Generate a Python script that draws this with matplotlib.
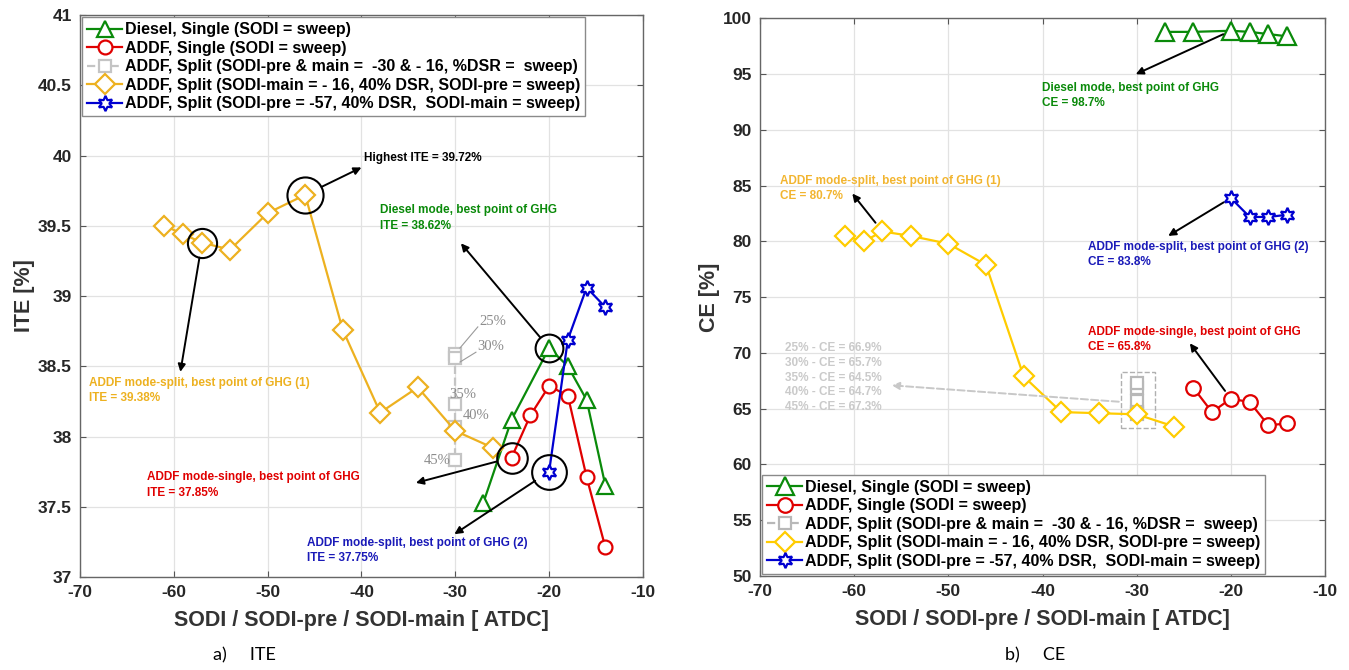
import matplotlib.pyplot as plt
import numpy as np

# ---------------- data ----------------
# Diesel, single injection
diesel_sodi = [-27, -24, -20, -18, -16, -14]
diesel_ite = [37.53, 38.12, 38.63, 38.50, 38.26, 37.65]
diesel_ce = [98.8, 98.8, 98.9, 98.8, 98.6, 98.4]

# ADDF, single injection
single_sodi = [-24, -22, -20, -18, -16, -14]
single_ite = [37.85, 38.15, 38.36, 38.29, 37.71, 37.21]
single_ce = [66.9, 64.7, 65.9, 65.6, 63.5, 63.7]

# ADDF split, DSR sweep at SODI-pre -30
dsr_sodi = [-30, -30, -30, -30, -30]
dsr_labels = ['25%', '30%', '35%', '40%', '45%']
dsr_ite = [38.59, 38.56, 38.23, 38.07, 37.83]
dsr_ce = [66.9, 65.7, 64.5, 64.7, 67.3]

# ADDF split, SODI-pre sweep
pre_sodi = [-61, -59, -57, -54, -50, -46, -42, -38, -34, -30, -26]
pre_ite = [39.50, 39.44, 39.38, 39.33, 39.59, 39.72, 38.76, 38.17, 38.35, 38.04, 37.92]
pre_ce = [80.5, 80.0, 80.9, 80.5, 79.8, 77.9, 67.9, 64.7, 64.6, 64.5, 63.4]

# ADDF split, SODI-main sweep
main_sodi = [-20, -18, -16, -14]
main_ite = [37.75, 38.69, 39.06, 38.92]
main_ce = [83.9, 82.2, 82.2, 82.4]

legend_labels = ['Diesel, Single (SODI = sweep)',
                 'ADDF, Single (SODI = sweep)',
                 'ADDF, Split (SODI-pre & main =  -30 & - 16, %DSR =  sweep)',
                 'ADDF, Split (SODI-main = - 16, 40% DSR, SODI-pre = sweep)',
                 'ADDF, Split (SODI-pre = -57, 40% DSR,  SODI-main = sweep)']

# highlighted points on the ITE plot (x, y)
circ_x = [-57, -46, -20, -24, -20]
circ_y = [39.38, 39.72, 38.63, 37.85, 37.75]
circ_ms = [21, 26, 20, 22, 25]

GREEN = '#0A8A0A'
RED = '#E00000'
GRAY = '#C4C4C4'
ORANGE = '#EDB120'
YELLOW = '#FFCC00'
BLUE = '#0000D0'
TBLUE = '#1A1AB8'

plt.rcParams['font.family'] = ['Liberation Sans', 'DejaVu Sans']
plt.rcParams['font.weight'] = 'bold'
plt.rcParams['axes.labelweight'] = 'bold'
plt.rcParams['axes.unicode_minus'] = False

fig = plt.figure(figsize=(13.49, 6.70), dpi=100)
ax1 = fig.add_axes([0.0593, 0.1388, 0.4173, 0.8388])
ax2 = fig.add_axes([0.5634, 0.1403, 0.4188, 0.8321])

star = (6, 1, 0)


def style_axes(ax, ylim, yticks, ylabel):
    ax.set_xlim(-70, -10)
    ax.set_ylim(*ylim)
    ax.set_xticks(np.arange(-70, -9, 10))
    ax.set_yticks(yticks)
    ax.set_yticklabels([('%g' % t) for t in yticks])
    ax.grid(True, color='#E2E2E2', lw=0.9)
    ax.set_axisbelow(True)
    ax.tick_params(direction='in', top=True, right=True, labelsize=12.5,
                   length=4, color='#555555', labelcolor='#262626', pad=6)
    for s in ax.spines.values():
        s.set_color('#666666')
        s.set_linewidth(1.0)
    ax.set_xlabel('SODI / SODI-pre / SODI-main [ ATDC]', fontsize=15.5,
                  color='#333333', labelpad=7)
    ax.set_ylabel(ylabel, fontsize=15.5, color='#333333', labelpad=2)


leg_kw = dict(fontsize=11.5, handlelength=2.2, handletextpad=0.15,
              labelspacing=0.22, borderaxespad=0.15, borderpad=0.3, fancybox=False,
              edgecolor='#8A8A8A', framealpha=1, numpoints=1)

# ---------------- a) ITE ----------------
mk = dict(mfc='white', lw=1.6, mew=1.6)
ax1.plot(diesel_sodi, diesel_ite, '^-', color=GREEN, ms=12, label=legend_labels[0], **mk)
ax1.plot(single_sodi, single_ite, 'o-', color=RED, ms=10, label=legend_labels[1], **mk)
ax1.plot(dsr_sodi, dsr_ite, 's--', color=GRAY, ms=9, label=legend_labels[2], **mk)
ax1.plot(pre_sodi, pre_ite, 'D-', color=ORANGE, ms=10, label=legend_labels[3], **mk)
ax1.plot(main_sodi, main_ite, marker=star, ls='-', color=BLUE, ms=11, label=legend_labels[4], **mk)

for x, y, s in zip(circ_x, circ_y, circ_ms):
    ax1.plot(x, y, 'o', ms=s, mfc='none', mec='black', mew=1.5)

arr = dict(arrowstyle='-|>', color='black', lw=1.4, mutation_scale=11, shrinkB=0)
ax1.annotate('', xy=(-40.0, 39.915), xytext=(-46, 39.72), arrowprops=dict(shrinkA=13, **arr))
ax1.text(-39.7, 39.985, 'Highest ITE = 39.72%', fontsize=8.5, va='center', color='black')

ax1.annotate('', xy=(-29.4, 39.375), xytext=(-20, 38.63), arrowprops=dict(shrinkA=10, **arr))
ax1.text(-38.0, 39.555, 'Diesel mode, best point of GHG\nITE = 38.62%', fontsize=8.5,
         va='center', color=GREEN, linespacing=1.35)

ax1.annotate('', xy=(-59.3, 38.46), xytext=(-57, 39.38), arrowprops=dict(shrinkA=11, **arr))
ax1.text(-69.0, 38.33, 'ADDF mode-split, best point of GHG (1)\nITE = 39.38%', fontsize=8.5,
         va='center', color=ORANGE, linespacing=1.35)

ax1.annotate('', xy=(-34.2, 37.67), xytext=(-24, 37.85), arrowprops=dict(shrinkA=11, **arr))
ax1.text(-62.9, 37.655, 'ADDF mode-single, best point of GHG\nITE = 37.85%', fontsize=8.5,
         va='center', color=RED, linespacing=1.35)

ax1.annotate('', xy=(-30.1, 37.305), xytext=(-20, 37.75), arrowprops=dict(shrinkA=12, **arr))
ax1.text(-45.8, 37.19, 'ADDF mode-split, best point of GHG (2)\nITE = 37.75%', fontsize=8.5,
         va='center', color=TBLUE, linespacing=1.35)

# DSR labels
lab_pos = [(-27.4, 38.82, 'left'), (-27.7, 38.64, 'left'), (-30.6, 38.30, 'left'),
           (-29.2, 38.15, 'left'), (-30.5, 37.83, 'right')]
for (x, y, ha), t in zip(lab_pos, dsr_labels):
    ax1.text(x, y, t, fontsize=10.5, color='#8C8C8C', family='Liberation Serif',
             weight='normal', ha=ha, va='center')
ax1.plot([-29.5, -27.6], [38.63, 38.78], color='#9A9A9A', lw=0.8)
ax1.plot([-29.5, -27.8], [38.53, 38.60], color='#9A9A9A', lw=0.8)

style_axes(ax1, (37, 41), np.arange(37, 41.01, 0.5), 'ITE [%]')
ax1.legend(loc='upper left', **leg_kw)

# ---------------- b) CE ----------------
ax2.plot(diesel_sodi, diesel_ce, '^-', color=GREEN, ms=13, label=legend_labels[0], **mk)
ax2.plot(single_sodi, single_ce, 'o-', color=RED, ms=10.5, label=legend_labels[1], **mk)
ax2.plot(dsr_sodi, dsr_ce, 's--', color='#B8B8B8', ms=8, label=legend_labels[2], **mk)
ax2.plot(pre_sodi, pre_ce, 'D-', color=YELLOW, ms=10, label=legend_labels[3], **mk)
ax2.plot(main_sodi, main_ce, marker=star, ls='-', color=BLUE, ms=11, label=legend_labels[4], **mk)

ax2.annotate('', xy=(-30.1, 95.0), xytext=(-20, 98.9), arrowprops=dict(shrinkA=6, **arr))
ax2.text(-40.1, 93.1, 'Diesel mode, best point of GHG\nCE = 98.7%', fontsize=8.5,
         va='center', color=GREEN, linespacing=1.35)

ax2.annotate('', xy=(-60.2, 84.3), xytext=(-57, 80.9), arrowprops=dict(shrinkA=8, **arr))
ax2.text(-67.9, 84.77, 'ADDF mode-split, best point of GHG (1)\nCE = 80.7%', fontsize=8.5,
         va='center', color='#F2B530', linespacing=1.35)

ax2.annotate('', xy=(-26.65, 80.5), xytext=(-20, 83.9), arrowprops=dict(shrinkA=6, **arr))
ax2.text(-35.2, 78.8, 'ADDF mode-split, best point of GHG (2)\nCE = 83.8%', fontsize=8.5,
         va='center', color=TBLUE, linespacing=1.35)

ax2.annotate('', xy=(-24.35, 70.87), xytext=(-20, 65.9), arrowprops=dict(shrinkA=7, **arr))
ax2.text(-35.2, 71.2, 'ADDF mode-single, best point of GHG\nCE = 65.8%', fontsize=8.5,
         va='center', color=RED, linespacing=1.35)

gray_txt = '\n'.join('%s - CE = %.1f%%' % (l, c) for l, c in zip(dsr_labels, dsr_ce))
ax2.text(-67.3, 67.8, gray_txt, fontsize=8.5, va='center', color='#CACACA', linespacing=1.3)
ax2.add_patch(plt.Rectangle((-31.7, 63.25), 3.7, 5.07, fill=False, ls='--',
                            ec='#B0B0B0', lw=1.0))
ax2.annotate('', xy=(-56.0, 67.1), xytext=(-31.9, 65.63),
             arrowprops=dict(arrowstyle='-|>', color='#C8C8C8', lw=1.4, ls='--',
                             mutation_scale=11, shrinkA=0, shrinkB=0))

style_axes(ax2, (50, 100), np.arange(50, 100.1, 5), 'CE [%]')
ax2.legend(loc='lower left', **leg_kw)

# sub captions
fig.text(213 / 1349, 1 - 655 / 670, 'a)     ITE', fontsize=13, family='Lato',
         weight='normal', va='center')
fig.text(1005 / 1349, 1 - 655 / 670, 'b)     CE', fontsize=13, family='Lato',
         weight='normal', va='center')

fig.savefig('out.png', dpi=100, facecolor='white')
